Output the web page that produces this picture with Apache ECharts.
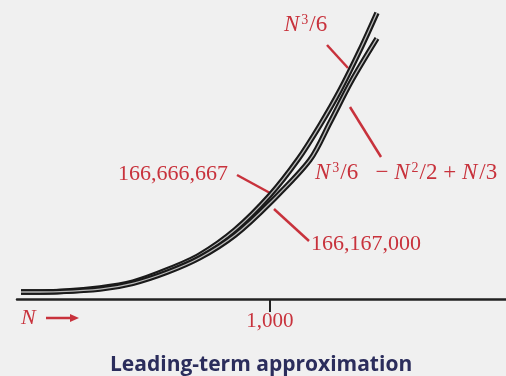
<!DOCTYPE html>
<html>
<head>
<meta charset="utf-8">
<script src="https://cdn.jsdelivr.net/npm/echarts@6/dist/echarts.min.js"></script>
<style>
  html, body { margin: 0; padding: 0; background: #f0f0f0; }
  #main { width: 506px; height: 376px; }
</style>
</head>
<body>
<div id="main"></div>
<script>
// N values and curve values
var upperN    = [16, 170, 328, 458, 593, 723, 862, 1000, 1111, 1198, 1277, 1356, 1423];
var upperVals = [0, 1e6, 7e6, 17e6, 38e6, 64e6, 107e6, 166666667, 228e6, 287e6, 347e6, 416e6, 480e6];
var lowerN    = [16, 170, 328, 458, 593, 723, 862, 1000, 1158, 1238, 1324, 1423];
var lowerVals = [0, 0.8e6, 5e6, 15e6, 34e6, 59e6, 98e6, 153e6, 227e6, 292e6, 364e6, 436e6];
var xTicks = [1000];

var red = "#c8323c";
var serif = "'Liberation Serif', 'DejaVu Serif', serif";

function pairs(xs, ys) {
    var out = [];
    for (var i = 0; i < xs.length; i++) {
        out.push([xs[i], ys[i]]);
    }
    return out;
}

//曲线：黑色外框 + 浅色内芯
function curve(name, data, color, width) {
    return {
        name: name,
        type: "line",
        data: data,
        smooth: 0.3,
        symbol: "none",
        silent: true,
        lineStyle: { color: color, width: width }
    };
}

var upperData = pairs(upperN, upperVals);
var lowerData = pairs(lowerN, lowerVals);

var rich = {
    i: { fontFamily: serif, fontStyle: "italic", fontSize: 23, fill: red, color: red, padding: [0, 2, 0, 0] },
    s: { fontFamily: serif, fontSize: 14, fill: red, color: red, verticalAlign: "top", padding: [0, 1, 9, 0] },
    n: { fontFamily: serif, fontSize: 23, fill: red, color: red }
};

var chart = echarts.init(document.getElementById("main"));
var option = {
    backgroundColor: "#f0f0f0",
    animation: false,
    grid: { left: 17, right: 0, top: 0, bottom: 77, outerBoundsMode: "none" },
    xAxis: {
        type: "value",
        min: 0,
        max: 1933,
        splitLine: { show: false },
        axisLine: { onZero: false, lineStyle: { color: "#222", width: 2.5 } },
        axisTick: { customValues: xTicks, length: 13, lineStyle: { color: "#222", width: 2 } },
        axisLabel: {
            customValues: xTicks,
            margin: 12,
            color: red,
            fontFamily: serif,
            fontSize: 21,
            formatter: function (v) { return v.toLocaleString("en-US"); }
        }
    },
    yAxis: {
        type: "value",
        show: false,
        min: -12e6,
        max: 502e6
    },
    series: [
        curve("upperOuter", upperData, "#1a1a1a", 5.5),
        curve("upperInner", upperData, "#b8b8b8", 1.3),
        curve("lowerOuter", lowerData, "#1a1a1a", 5.5),
        curve("lowerInner", lowerData, "#b8b8b8", 1.3)
    ],
    graphic: [
        // N^3/6
        { type: "text", left: 284, top: 13, style: { text: "{i|N}{s|3}{n|/6}", rich: rich } },
        { type: "line", shape: { x1: 327, y1: 45, x2: 348, y2: 68 }, style: { stroke: red, lineWidth: 2.5 } },
        // N^3/6 - N^2/2 + N/3
        { type: "text", left: 315, top: 161, style: { text: "{i|N}{s|3}{n|/6   − }{i|N}{s|2}{n|/2 + }{i|N}{n|/3}", rich: rich } },
        { type: "line", shape: { x1: 350, y1: 107, x2: 381, y2: 157 }, style: { stroke: red, lineWidth: 2.5 } },
        // 166,666,667
        { type: "text", left: 118, top: 163, style: { text: "166,666,667", font: "22px " + serif, fill: red } },
        { type: "line", shape: { x1: 237, y1: 175, x2: 270, y2: 193 }, style: { stroke: red, lineWidth: 2.5 } },
        // 166,167,000
        { type: "text", left: 311, top: 233, style: { text: "166,167,000", font: "22px " + serif, fill: red } },
        { type: "line", shape: { x1: 274, y1: 209, x2: 309, y2: 241 }, style: { stroke: red, lineWidth: 2.5 } },
        // N -->
        { type: "text", left: 21, top: 307, style: { text: "N", font: "italic 22px " + serif, fill: red } },
        { type: "line", shape: { x1: 46, y1: 318, x2: 72, y2: 318 }, style: { stroke: red, lineWidth: 2.5 } },
        { type: "polygon", shape: { points: [[79, 318], [70, 314], [70, 322]] }, style: { fill: red } },
        // title
        {
            type: "text", left: 110, top: 355,
            style: { text: "Leading-term approximation", font: "bold 21px 'Open Sans', sans-serif", fill: "#2b2d5c" }
        }
    ]
};
chart.setOption(option);
</script>
</body>
</html>
